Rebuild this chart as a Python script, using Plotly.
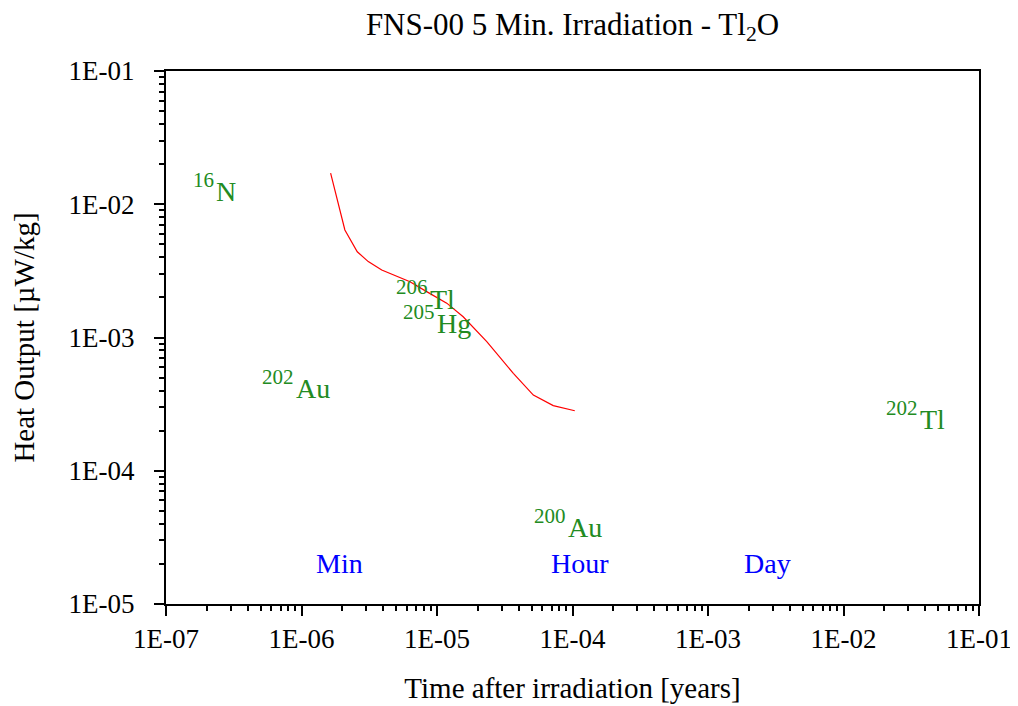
import numpy as np
import plotly.graph_objects as go

# Data
time_years = [1.64e-6, 2.09e-6, 2.58e-6, 3.11e-6, 3.91e-6, 5.05e-6, 6.32e-6, 8.39e-6,
              1.18e-5, 1.56e-5, 2.33e-5, 3.66e-5, 5.14e-5, 7.21e-5, 1.04e-4]
heat_output = [1.71e-2, 6.41e-3, 4.40e-3, 3.71e-3, 3.21e-3, 2.90e-3, 2.62e-3, 2.21e-3,
               1.81e-3, 1.43e-3, 9.30e-4, 5.38e-4, 3.70e-4, 3.08e-4, 2.82e-4]

nuclide_mass = ["16", "206", "205", "202", "200", "202"]
nuclide_elem = ["N", "Tl", "Hg", "Au", "Au", "Tl"]
nuclide_x = [2.30e-7, 8.7e-6, 9.8e-6, 8.95e-7, 9.1e-5, 3.6e-2]
nuclide_y = [1.24e-2, 1.93e-3, 1.27e-3, 4.11e-4, 3.75e-5, 2.41e-4]

time_marks = ["Min", "Hour", "Day"]
time_mark_x = [1.90e-6, 1.14e-4, 2.74e-3]
time_mark_y = [2e-5, 2e-5, 2e-5]

x_tickvals = [1e-7, 1e-6, 1e-5, 1e-4, 1e-3, 1e-2, 1e-1]
x_ticktext = ["1E-07", "1E-06", "1E-05", "1E-04", "1E-03", "1E-02", "1E-01"]
y_tickvals = [1e-5, 1e-4, 1e-3, 1e-2, 1e-1]
y_ticktext = ["1E-05", "1E-04", "1E-03", "1E-02", "1E-01"]

FONT = "Liberation Serif, Times New Roman, serif"
GREEN = "#228B22"

fig = go.Figure()
fig.add_trace(go.Scatter(x=time_years, y=heat_output, mode="lines",
                         line=dict(color="red", width=1.2), showlegend=False))

for m, e, x, y in zip(nuclide_mass, nuclide_elem, nuclide_x, nuclide_y):
    # element symbol
    fig.add_annotation(x=np.log10(x), y=np.log10(y), text=e, showarrow=False,
                       font=dict(family=FONT, size=28, color=GREEN),
                       xanchor="left", yanchor="middle", borderpad=0)
    # mass number as superscript
    fig.add_annotation(x=np.log10(x), y=np.log10(y), text=m, showarrow=False,
                       font=dict(family=FONT, size=21, color=GREEN),
                       xanchor="right", yanchor="middle", yshift=12, borderpad=0)

for t, x, y in zip(time_marks, time_mark_x, time_mark_y):
    fig.add_annotation(x=np.log10(x), y=np.log10(y), text=t, showarrow=False,
                       font=dict(family=FONT, size=28, color="blue"),
                       xanchor="center", yanchor="middle")

axis_common = dict(showline=True, linecolor="black", linewidth=2, mirror=True,
                   showgrid=False, zeroline=False, ticks="outside", ticklen=10,
                   tickwidth=2, tickcolor="black", automargin=False,
                   tickfont=dict(family=FONT, size=27, color="black"))

fig.update_xaxes(type="log", range=[-7, -1], tickmode="array", tickvals=x_tickvals,
                 ticktext=x_ticktext,
                 minor=dict(ticks="outside", ticklen=5, tickwidth=1.5, tickcolor="black",
                            dtick="D1", showgrid=False),
                 title=dict(text="Time after irradiation [years]",
                            font=dict(family=FONT, size=29, color="black"), standoff=24),
                 **axis_common)
fig.update_yaxes(type="log", range=[-5, -1], tickmode="array", tickvals=y_tickvals,
                 ticktext=y_ticktext, ticklabelstandoff=14,
                 minor=dict(ticks="outside", ticklen=5, tickwidth=1.5, tickcolor="black",
                            dtick="D1", showgrid=False),
                 title=dict(text="Heat Output [µW/kg]",
                            font=dict(family=FONT, size=29, color="black"), standoff=26),
                 **axis_common)

fig.update_layout(
    width=1010, height=698,
    margin=dict(l=158, r=39, t=63, b=102),
    paper_bgcolor="white", plot_bgcolor="white",
    title=dict(text="FNS-00 5 Min. Irradiation - Tl<sub>2</sub>O",
               font=dict(family=FONT, size=31, color="black"),
               x=(158 + 971) / 2 / 1010, xanchor="center", y=1 - 16 / 698, yanchor="middle"),
)

fig.write_html("out.html")
